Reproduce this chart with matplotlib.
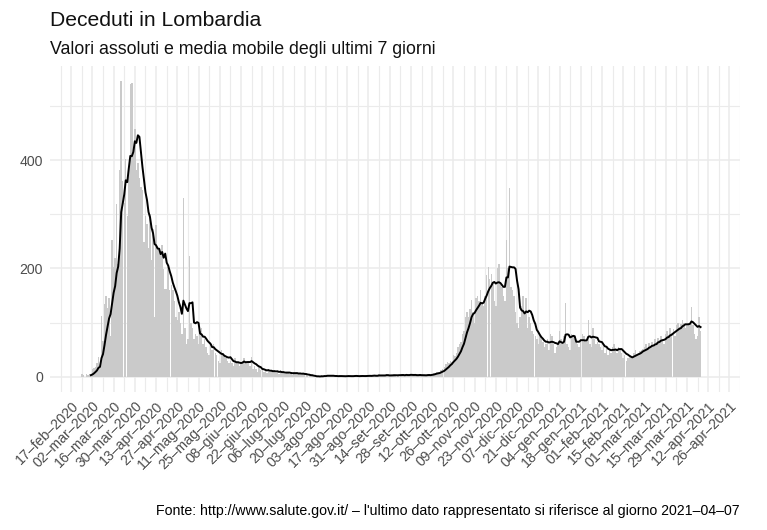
import matplotlib
matplotlib.use("Agg")
import matplotlib.pyplot as plt
import matplotlib.dates as mdates
import pandas as pd

# ---------------- data (daily deaths, Lombardia) ----------------
feb_2020 = [6, 3, 0, 5, 3, 6]  # from 24-feb-2020
mar_2020 = [1, 14, 17, 18, 25, 37, 19, 113, 66, 135, 149, 127, 146, 76,
            252, 202, 220, 319, 209, 381, 546, 361, 320, 402, 296, 387, 541, 542,
            416, 458, 381]
apr_2020 = [394, 367, 351, 345, 249, 297, 282, 238, 300, 216, 273, 110, 280, 241,
            235, 231, 243, 199, 163, 163, 203, 161, 170, 160, 140, 110, 105, 120,
            100, 80]
may_2020 = [330, 90, 60, 70, 223, 100, 90, 70, 80, 75, 60, 85, 90, 60,
            70, 55, 45, 40, 65, 50, 60, 45, 40, 30, 25, 50, 45, 40,
            35, 30, 25]
jun_2020 = [30, 25, 20, 35, 25, 30, 20, 25, 30, 35, 25, 28, 30, 20,
            37, 15, 20, 15, 10, 18, 12, 15, 10, 12, 8, 14, 10, 12,
            9, 11]
jul_2020 = [8, 10, 6, 12, 7, 9, 5, 8, 10, 6, 7, 4, 9, 6,
            8, 5, 7, 3, 6, 4, 5, 2, 3, 1, 2, 0, 1, 0,
            2, 1, 3]
aug_2020 = [2, 3, 1, 4, 2, 1, 3, 2, 0, 1, 2, 3, 1, 2,
            1, 0, 2, 3, 2, 1, 2, 3, 1, 0, 2, 3, 2, 1,
            3, 2, 1]
sep_2020 = [3, 2, 4, 3, 1, 2, 5, 3, 2, 4, 3, 5, 2, 1,
            4, 3, 6, 2, 4, 3, 2, 5, 4, 3, 6, 2, 3, 5,
            4, 3]
oct_2020 = [4, 3, 2, 5, 3, 4, 2, 3, 5, 4, 3, 6, 8, 7,
            10, 9, 8, 12, 15, 18, 24, 27, 25, 30, 28, 40, 38, 45,
            55, 60, 65]
nov_2020 = [80, 85, 110, 120, 110, 125, 142, 120, 100, 145, 150, 140, 160, 135,
            130, 150, 188, 203, 180, 190, 175, 140, 130, 200, 208, 170, 165, 150,
            140, 252]
dec_2020 = [200, 348, 165, 160, 150, 120, 100, 90, 110, 130, 150, 120, 146, 90,
            110, 100, 85, 80, 75, 70, 60, 75, 70, 65, 55, 60, 70, 50,
            80, 75, 60]
jan_2021 = [45, 55, 60, 85, 70, 65, 75, 136, 60, 55, 50, 80, 75, 70,
            65, 60, 55, 70, 80, 75, 65, 70, 105, 60, 55, 90, 70, 60,
            65, 60, 55]
feb_2021 = [50, 60, 45, 55, 40, 50, 45, 55, 60, 50, 45, 55, 50, 45,
            35, 40, 30, 35, 40, 38, 35, 45, 50, 40, 45, 48, 50, 52]
mar_2021 = [55, 60, 50, 62, 58, 65, 55, 70, 65, 72, 68, 75, 70, 60,
            80, 85, 78, 90, 82, 88, 75, 95, 100, 92, 98, 105, 100, 90,
            95, 100, 98]
apr_2021 = [129, 95, 80, 70, 75, 110, 85]

month_blocks = [
    ("2020-02-24", feb_2020), ("2020-03-01", mar_2020), ("2020-04-01", apr_2020),
    ("2020-05-01", may_2020), ("2020-06-01", jun_2020), ("2020-07-01", jul_2020),
    ("2020-08-01", aug_2020), ("2020-09-01", sep_2020), ("2020-10-01", oct_2020),
    ("2020-11-01", nov_2020), ("2020-12-01", dec_2020), ("2021-01-01", jan_2021),
    ("2021-02-01", feb_2021), ("2021-03-01", mar_2021), ("2021-04-01", apr_2021),
]

mesi = ["gen", "feb", "mar", "apr", "mag", "giu", "lug", "ago", "set", "ott", "nov", "dic"]
title = "Deceduti in Lombardia"
subtitle = "Valori assoluti e media mobile degli ultimi 7 giorni"
caption = ("Fonte: http://www.salute.gov.it/ \u2013 l'ultimo dato rappresentato "
           "si riferisce al giorno 2021\u201304\u201307")

# ---------------- build series ----------------
series = pd.concat([pd.Series(v, index=pd.date_range(s, periods=len(v), freq="D"))
                    for s, v in month_blocks])
media7 = series.rolling(7).mean()

plt.rcParams["font.family"] = ["Liberation Sans", "DejaVu Sans"]

W, H = 767, 530
fig = plt.figure(figsize=(W / 100, H / 100), dpi=100)
ax = fig.add_axes([50 / W, 138.2 / H, 690 / W, 325.8 / H])

ax.bar(series.index, series.values, width=0.97, color="#CACACA", lw=0, zorder=2)
ax.plot(media7.index, media7.values, color="black", lw=1.4, zorder=3)

n = len(series)
exp_x = 0.05 * n
x0 = mdates.date2num(series.index[0]) - 0.5 - exp_x
x1 = mdates.date2num(series.index[-1]) + 0.5 + exp_x
ax.set_xlim(x0, x1)
ymax = series.max()
ax.set_ylim(-0.05 * ymax, 1.05 * ymax)

major = pd.date_range("2020-02-17", "2021-04-26", freq="14D")
minor = pd.date_range("2020-02-10", "2021-05-03", freq="14D")
labels = [f"{d.day:02d}\u2013{mesi[d.month - 1]}\u2013{d.year}" for d in major]
ax.set_xticks(mdates.date2num(major))
ax.set_xticklabels(labels, rotation=45, ha="right", va="top",
                   rotation_mode="anchor", fontsize=10.2, color="#4D4D4D")
ax.set_xticks(mdates.date2num(minor), minor=True)
ax.set_yticks([0, 200, 400])
ax.set_yticklabels(["0", "200", "400"], fontsize=10.2, color="#4D4D4D")
ax.set_yticks([100, 300, 500], minor=True)

ax.grid(which="major", color="#EBEBEB", lw=1.1, zorder=0)
ax.grid(which="minor", color="#EBEBEB", lw=0.8, zorder=0)
ax.set_axisbelow(True)
ax.tick_params(which="both", length=0)
ax.tick_params(axis="x", pad=5)
ax.tick_params(axis="y", pad=5)
for sp in ax.spines.values():
    sp.set_visible(False)

fig.text(50 / W, 1 - 26 / H, title, fontsize=15.2, ha="left", va="baseline", color="#111111")
fig.text(50 / W, 1 - 54 / H, subtitle, fontsize=12.75, ha="left", va="baseline", color="#111111")
fig.text(740 / W, 1 - 515 / H, caption, fontsize=10.2, ha="right", va="baseline", color="black")

fig.savefig("out.png", dpi=100)
